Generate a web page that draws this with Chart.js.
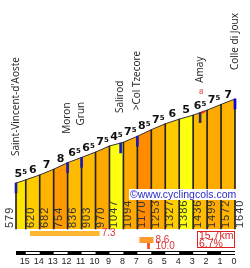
<!DOCTYPE html>
<html>
<head>
<meta charset="utf-8">
<script src="https://cdn.jsdelivr.net/npm/chart.js@4"></script>
<style>
html, body { margin: 0; padding: 0; background: #fff; }
canvas { display: block; }
</style>
</head>
<body>
<canvas id="c" width="250" height="268"></canvas>
<script>
// km to go and altitude at each km post
const kms = [15.7, 15, 14, 13, 12, 11, 10, 9, 8, 7, 6, 5, 4, 3, 2, 1, 0];
const alts = [579, 620, 682, 754, 836, 903, 970, 1047, 1094, 1170, 1253, 1327, 1386, 1436, 1499, 1572, 1640];
// gradient shown above each segment
const grades = [5.5, 6, 7, 8, 6.5, 6.5, 7.5, 4.5, 7.5, 8.5, 7.5, 6, 5, 6.5, 7.5, 7];
const kmTicks = [15, 14, 13, 12, 11, 10, 9, 8, 7, 6, 5, 4, 3, 2, 1, 0];

const places = ["Saint-Vincent-d'Aoste", 'Moron', 'Grun', 'Salirod', '>Col Tzecore', 'Amay', 'Colle di Joux'];
const placeKm = [15.7, 12, 11, 8.2, 7, 2.5, 0];
const placeAlt = [579, 836, 903, 1085, 1170, 1467, 1640];

// steepest bit
const steepKm = [2.42, 2.15];
const steepAlt = [1464, 1486];
const steepGrade = '8';

// steepest 5km / 1km / 100m
const bestFrom = [14.7, 6.85, 6.3];
const bestTo = [9.7, 5.85, 6.1];
const bestGrade = ['7.3', '8.6', '10.0'];
const totalKm = '15.7km';
const avgGrade = '6.7%';

const gradeColor = g => {
    if (g < 5.5) return '#ffff10';
    if (g < 6) return '#ffe600';
    if (g < 6.5) return '#ffcc00';
    if (g < 7) return '#ffbb00';
    if (g < 7.5) return '#ffb400';
    if (g < 8) return '#ffaa00';
    if (g < 8.5) return '#ff9900';
    return '#ff8c00';
}

const markerColors = ['#1c1cb4', '#1c1cb4', '#1c1cb4', '#1c1cb4', '#1c1cb4', '#2a2a66', '#0000e0'];

const decor = {
    id: 'decor',
    afterDatasetsDraw(chart) {
        const {ctx, scales: {x, y}} = chart;
        ctx.save();

        // gradient labels
        grades.forEach((g, i) => {
            const mx = x.getPixelForValue((kms[i] + kms[i + 1]) / 2);
            const my = y.getPixelForValue((alts[i] + alts[i + 1]) / 2) - 4;
            const whole = String(Math.floor(g));
            const half = g % 1 ? '5' : '';
            ctx.font = 'bold 11px "DejaVu Sans"';
            const w1 = ctx.measureText(whole).width;
            ctx.font = 'bold 7px "DejaVu Sans"';
            const w2 = half ? ctx.measureText(half).width : 0;
            const left = mx - (w1 + w2) / 2;
            ctx.fillStyle = '#111';
            ctx.textAlign = 'left';
            ctx.textBaseline = 'alphabetic';
            ctx.font = 'bold 11px "DejaVu Sans"';
            ctx.fillText(whole, left, my);
            if (half) {
                ctx.font = 'bold 7px "DejaVu Sans"';
                ctx.fillText(half, left + w1, my - 3);
            }
        });

        // place names
        const gaps = [27, 29, 32, 30, 26, 30, 29];
        ctx.font = '10px "Open Sans"';
        ctx.fillStyle = '#222';
        places.forEach((p, i) => {
            ctx.save();
            ctx.translate(x.getPixelForValue(placeKm[i]), y.getPixelForValue(placeAlt[i]) - gaps[i]);
            ctx.rotate(-Math.PI / 2);
            ctx.textAlign = 'left';
            ctx.textBaseline = 'middle';
            ctx.fillText(p, 0, 0);
            ctx.restore();
        });

        // red steepest mark
        ctx.fillStyle = '#e03030';
        ctx.font = '8px "Liberation Sans"';
        ctx.textAlign = 'center';
        ctx.textBaseline = 'alphabetic';
        ctx.fillText(steepGrade, x.getPixelForValue(steepKm[0]), y.getPixelForValue(steepAlt[0]) - 19);

        // altitudes inside columns
        ctx.font = '11px "Liberation Sans"';
        ctx.letterSpacing = '1px';
        ctx.fillStyle = '#333';
        alts.forEach((a, i) => {
            let px = x.getPixelForValue(kms[i]) + 5;
            if (i === 0) px = x.getPixelForValue(kms[i]) - 6;
            ctx.save();
            ctx.translate(px, y.getPixelForValue(0) - 1);
            ctx.rotate(-Math.PI / 2);
            ctx.textAlign = 'left';
            ctx.textBaseline = 'middle';
            ctx.fillText(String(a), 0, 0);
            ctx.restore();
        });
        ctx.letterSpacing = '0px';

        // watermark
        ctx.fillStyle = '#fff';
        ctx.fillRect(129, 189, 109, 11);
        ctx.fillStyle = '#2b2bc8';
        ctx.font = '10.5px "Liberation Sans"';
        ctx.textAlign = 'left';
        ctx.textBaseline = 'middle';
        ctx.fillText('\u00a9www.cyclingcols.com', 130, 195);

        // steepest sections legend
        const barY = [231, 237, 243];
        const barH = [5, 6, 6];
        const barC = ['#ffb733', '#ff9a2e', '#ee5522'];
        ctx.font = '10px "Liberation Sans"';
        bestGrade.forEach((g, i) => {
            const x0 = x.getPixelForValue(bestFrom[i]);
            const x1 = x.getPixelForValue(bestTo[i]);
            ctx.fillStyle = barC[i];
            ctx.fillRect(x0, barY[i], x1 - x0, barH[i]);
            const tx = i === 2 ? x.getPixelForValue(bestTo[1]) + 2 : x1 + 2;
            ctx.fillStyle = '#e0303a';
            ctx.fillText(g, tx, barY[i] + barH[i] / 2);
        });

        // total box
        ctx.strokeStyle = '#dd2222';
        ctx.lineWidth = 1;
        ctx.strokeRect(197.5, 231.5, 37, 16);
        ctx.fillStyle = '#dd2222';
        ctx.font = '10.5px "Liberation Sans"';
        ctx.fillText(totalKm, 199, 236);
        ctx.fillText(avgGrade, 199, 244);

        // km scale bar
        const sx0 = x.getPixelForValue(kms[0]);
        const sx1 = x.getPixelForValue(0);
        ctx.fillStyle = '#000';
        ctx.fillRect(sx0, 251, sx1 - sx0, 4);
        ctx.fillStyle = '#fff';
        for (let k = 15; k > 0; k -= 2) {
            const a = x.getPixelForValue(k);
            const b = x.getPixelForValue(k - 1);
            ctx.fillRect(a, 252, b - a, 2);
        }

        // km labels under the bar
        ctx.fillStyle = '#222';
        ctx.font = '9px "Liberation Sans"';
        ctx.textAlign = 'center';
        ctx.textBaseline = 'middle';
        kmTicks.forEach(k => ctx.fillText(String(k), x.getPixelForValue(k) - 1, 262));
        ctx.restore();
    }
};

const profile = kms.map((k, i) => ({x: k, y: alts[i]}));

new Chart(document.getElementById('c'), {
    type: 'line',
    data: {
        datasets: [{
            type: 'line',
            data: profile,
            borderColor: '#333',
            borderWidth: 1,
            pointRadius: 0,
            tension: 0,
            fill: 'origin',
            backgroundColor: gradeColor(grades[0]),
            segment: {
                backgroundColor: c => gradeColor(grades[c.p0DataIndex])
            },
            clip: false,
            order: 4
        }, {
            type: 'bar',
            data: profile,
            backgroundColor: '#222',
            barThickness: 1,
            grouped: false,
            clip: false,
            order: 3
        }, {
            type: 'bar',
            data: placeKm.map((k, i) => ({x: k, y: [placeAlt[i] - 125, placeAlt[i]]})),
            backgroundColor: markerColors,
            barThickness: 2,
            grouped: false,
            clip: false,
            order: 2
        }, {
            type: 'line',
            data: steepKm.map((k, i) => ({x: k, y: steepAlt[i]})),
            borderColor: '#e02020',
            borderWidth: 2,
            pointRadius: 0,
            fill: false,
            clip: false,
            order: 1
        }]
    },
    options: {
        responsive: false,
        animation: false,
        events: [],
        layout: {padding: {left: 16, right: 15, top: 0, bottom: 39}},
        plugins: {legend: {display: false}, tooltip: {enabled: false}},
        scales: {
            x: {
                type: 'linear',
                display: false,
                reverse: true,
                min: 0,
                max: 15.7,
                offset: false
            },
            y: {
                display: false,
                min: 0,
                max: 2889
            }
        }
    },
    plugins: [decor]
});
</script>
</body>
</html>
